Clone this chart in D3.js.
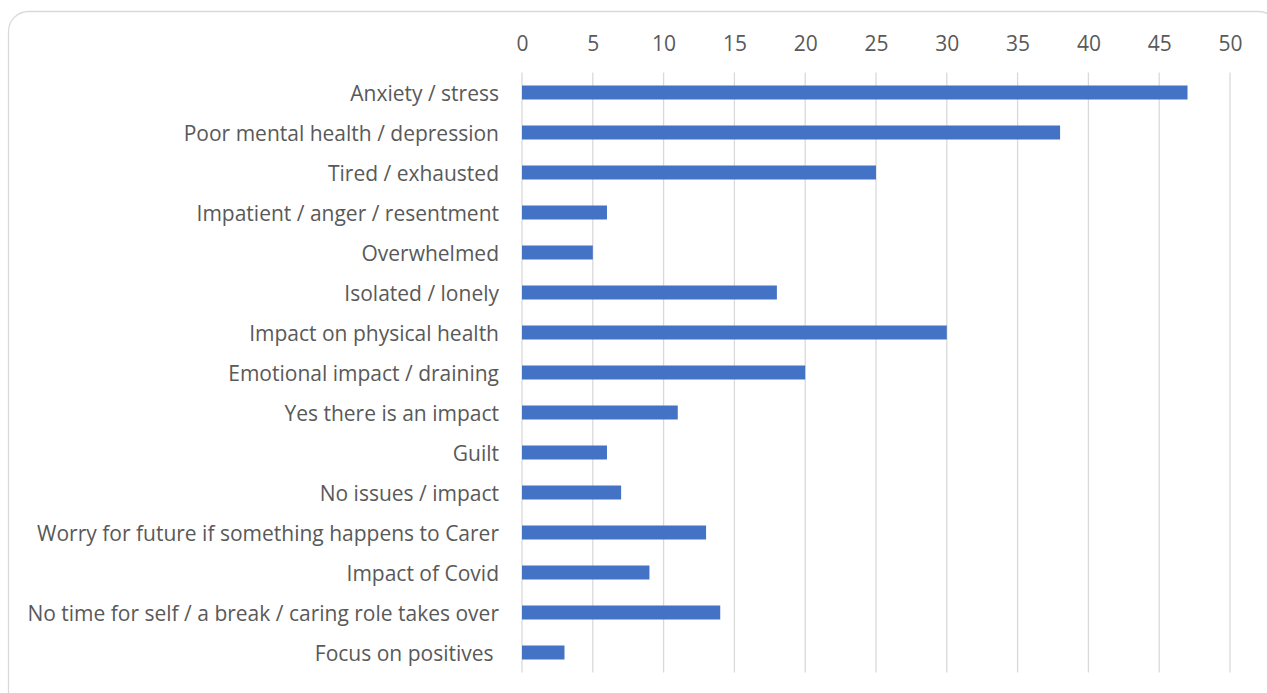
<!DOCTYPE html>
<html><head><meta charset="utf-8">
<script src="https://cdn.jsdelivr.net/npm/d3@7"></script>
<style>
html,body{margin:0;padding:0;background:#fff;}
svg{display:block;}
text{font-family:"Open Sans","Noto Sans",sans-serif;fill:#595959;white-space:pre;}
</style></head>
<body>
<svg id="chart" width="1267" height="693"></svg>
<script>
const categories = [
  "Anxiety / stress",
  "Poor mental health / depression",
  "Tired / exhausted",
  "Impatient / anger / resentment",
  "Overwhelmed",
  "Isolated / lonely",
  "Impact on physical health",
  "Emotional impact / draining",
  "Yes there is an impact",
  "Guilt",
  "No issues / impact",
  "Worry for future if something happens to Carer",
  "Impact of Covid",
  "No time for self / a break / caring role takes over",
  "Focus on positives "
];
const values = [47, 38, 25, 6, 5, 18, 30, 20, 11, 6, 7, 13, 9, 14, 3];
const tickValues = [0, 5, 10, 15, 20, 25, 30, 35, 40, 45, 50];

const svg = d3.select("#chart");
const plot = {left: 522, right: 1230, top: 72.5, bottom: 672.5};

svg.append("rect").attr("x", 8.5).attr("y", 11.5).attr("width", 1270).attr("height", 700)
  .attr("rx", 20).attr("fill", "#fff").attr("stroke", "#d9d9d9").attr("stroke-width", 1.3);

const x = d3.scaleLinear().domain([0, 50]).range([plot.left, plot.right]);
const y = d3.scaleBand().domain(categories).range([plot.top, plot.bottom]).paddingInner(0.65).paddingOuter(0.325);

// gridlines
svg.append("g").selectAll("line").data(tickValues).join("line")
  .attr("x1", d => x(d)).attr("x2", d => x(d))
  .attr("y1", plot.top).attr("y2", plot.bottom)
  .attr("stroke", "#d9d9d9").attr("stroke-width", 1.3);

// top axis labels
const xAxis = d3.axisTop(x).tickValues(tickValues).tickSize(0).tickPadding(0);
const gx = svg.append("g").attr("transform", `translate(0,${51})`).call(xAxis);
gx.select(".domain").remove();
gx.selectAll("text").attr("font-size", 19).style("fill", "#595959")
  .style("font-family", '"Open Sans","Noto Sans",sans-serif').attr("dy", 0);

// bars
svg.append("g").selectAll("rect").data(values).join("rect")
  .attr("x", x(0)).attr("y", (d, i) => y(categories[i]))
  .attr("width", d => x(d) - x(0)).attr("height", y.bandwidth())
  .attr("fill", "#4472C4");

// category labels
const yAxis = d3.axisLeft(y).tickSize(0).tickPadding(0);
const gy = svg.append("g").attr("transform", `translate(${499},0)`).call(yAxis);
gy.select(".domain").remove();
gy.selectAll("text").attr("font-size", 19).attr("dy", "0.4em").style("fill", "#595959")
  .style("font-family", '"Open Sans","Noto Sans",sans-serif')
  .style("white-space", "pre");

// fit font size to match reference label width
const longest = gy.selectAll("text").filter(d => d === categories[13]).node();
const w = longest.getComputedTextLength();
const fs = 19 * 472 / w;
gy.selectAll("text").attr("font-size", fs);
gx.selectAll("text").attr("font-size", fs);
</script>
</body></html>
